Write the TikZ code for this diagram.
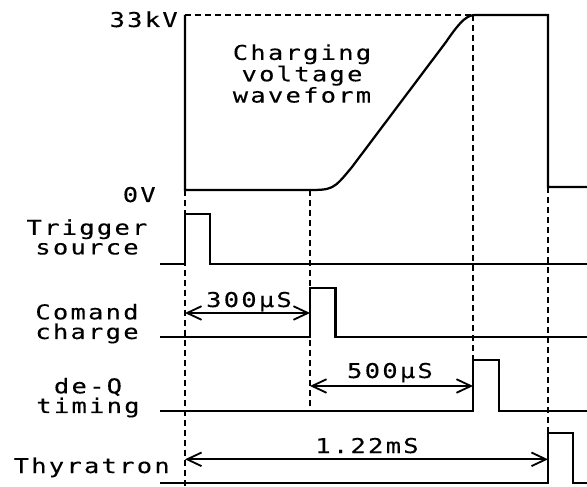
\documentclass[tikz,border=0pt]{standalone}
\usepackage{fontspec}
\usetikzlibrary{arrows.meta}
\newfontfamily\plotfont[FakeStretch=1.25,LetterSpace=11,FakeBold=0.2]{DejaVu Sans Mono}

\begin{document}
\begin{tikzpicture}[
    >={Straight Barb[length=3.6mm,width=3.4mm]},
    font=\plotfont\fontsize{14.5pt}{14pt}\selectfont,
    sig/.style={line width=1.6pt},
    guide/.style={line width=1.4pt, dash pattern=on 1.6mm off 0.9mm},
    lbl/.style={inner sep=0pt, align=center},
    dim/.style={<->, line width=1.3pt}
]
\useasboundingbox (0,0) rectangle (14.675,12.15);

% charging voltage
\draw[sig] (4.625,11.775) -- (4.625,7.4) -- (7.65,7.4)
    .. controls (8.325,7.4) .. (8.8,7.975) -- (11.15,11.1)
    .. controls (11.55,11.69) and (11.7,11.775) .. (11.9,11.775) -- (13.7,11.775)
    -- (13.7,7.475) -- (14.675,7.475);
\draw[guide] (4.625,11.775) -- (11.825,11.775);

\node[lbl, anchor=base east] (vtop) at (4.45,11.475) {33kV};
\node[lbl, anchor=base east] (vzero) at (3.9,7.1) {0V};
\node[lbl] (wave) at (7.55,10.31) {Charging\\voltage\\waveform};

% timing marks
\draw[guide] (4.625,7.4) -- (4.625,0);
\draw[guide] (7.75,7.4) -- (7.75,1.875);
\draw[guide] (11.825,11.775) -- (11.825,3.15);
\draw[guide] (13.7,7.475) -- (13.7,1.33);

% pulses
\draw[sig] (4.0,5.55) -- (4.625,5.55) -- (4.625,6.8) -- (5.25,6.8)
    -- (5.25,5.55) -- (14.675,5.55);
\draw[sig] (4.0,3.725) -- (7.75,3.725) -- (7.75,4.95) -- (8.39,4.95)
    -- (8.39,3.725) -- (14.675,3.725);
\draw[sig] (4.0,1.875) -- (11.825,1.875) -- (11.825,3.15) -- (12.475,3.15)
    -- (12.475,1.875) -- (14.675,1.875);
\draw[sig] (4.0,0.075) -- (13.7,0.075) -- (13.7,1.33) -- (14.33,1.33)
    -- (14.33,0.075) -- (14.675,0.075);

\node[lbl] (trig) at (2.175,6.225) {Trigger\\source};
\node[lbl] (cmd) at (2.175,4.06) {Comand\\charge};
\node[lbl] (deq) at (2.2,2.21) {de-Q\\timing};
\node[lbl, anchor=base east] (thy) at (4.25,0.325) {Thyratron};

% intervals
\coordinate (a300) at (4.625,4.325);
\coordinate (b300) at (7.75,4.325);
\coordinate (a500) at (7.75,2.5);
\coordinate (b500) at (11.825,2.5);
\coordinate (a122) at (4.625,0.667);
\coordinate (b122) at (13.7,0.667);

\draw[dim] (a300) -- (b300);
\draw[dim] (a500) -- (b500);
\draw[dim] (a122) -- (b122);

\node[lbl, anchor=base] (t300) at (6.225,4.475) {300µS};
\node[lbl, anchor=base] (t500) at (9.75,2.7) {500µS};
\node[lbl, anchor=base] (t122) at (9.175,0.825) {1.22mS};

\end{tikzpicture}
\end{document}
